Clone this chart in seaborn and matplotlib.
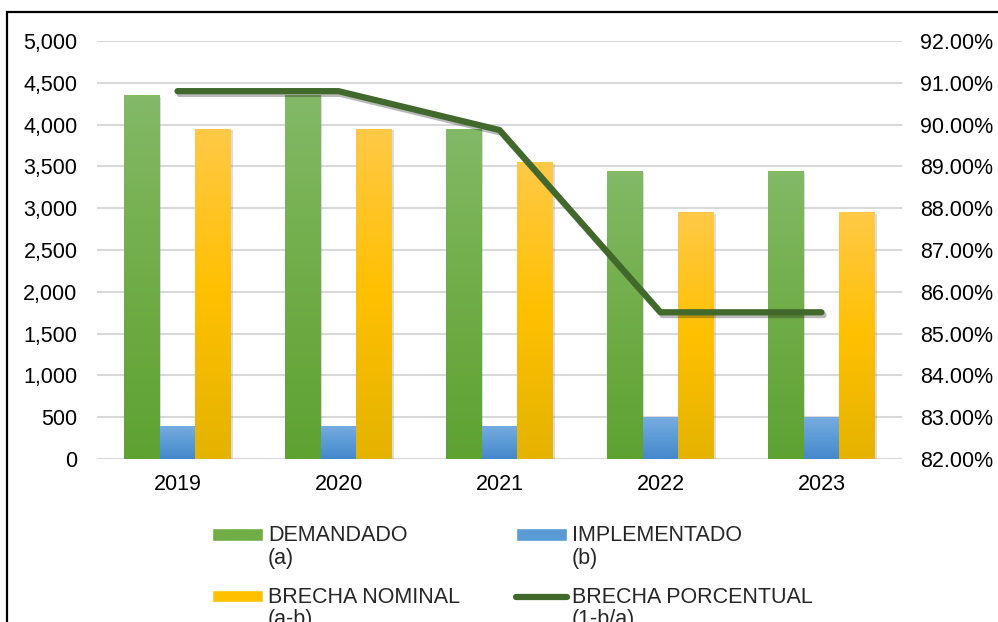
import numpy as np
import pandas as pd
import matplotlib
matplotlib.use("Agg")
import matplotlib.pyplot as plt
import matplotlib.patheffects as pe
from matplotlib.patches import Rectangle, Patch
from matplotlib.lines import Line2D
from matplotlib.legend_handler import HandlerPatch, HandlerLine2D
from matplotlib.colors import LinearSegmentedColormap
from matplotlib.ticker import FuncFormatter
import seaborn as sns

years = ["2019", "2020", "2021", "2022", "2023"]
demandado = [4350, 4350, 3950, 3450, 3450]
implementado = [400, 400, 400, 500, 500]
brecha_nominal = [3950, 3950, 3550, 2950, 2950]
brecha_pct = [90.80, 90.80, 89.87, 85.51, 85.51]

series_names = ["DEMANDADO\n(a)", "IMPLEMENTADO\n(b)", "BRECHA NOMINAL\n(a-b)"]
line_name = "BRECHA PORCENTUAL\n(1-b/a)"

# gradient stops (top, middle, bottom) for each bar series
grad = {
    series_names[0]: ["#83b967", "#70ad47", "#5ea232"],
    series_names[1]: ["#78ace1", "#5b9bd5", "#4588cc"],
    series_names[2]: ["#ffc947", "#ffc000", "#e4b300"],
}
line_color = "#41692b"

df = pd.DataFrame({
    "year": years * 3,
    "series": [series_names[0]] * 5 + [series_names[1]] * 5 + [series_names[2]] * 5,
    "value": demandado + implementado + brecha_nominal,
})

sns.set_theme(style="white")
plt.rcParams["font.family"] = ["Liberation Sans", "DejaVu Sans"]
fs = 15.5

fig = plt.figure(figsize=(9.98, 6.22), dpi=100)
ax = fig.add_axes([97 / 998, 1 - 459 / 622, 805 / 998, 418 / 622])

palette = {k: v[1] for k, v in grad.items()}
sns.barplot(data=df, x="year", y="value", hue="series", palette=palette,
            width=0.67, saturation=1, legend=False, ax=ax, zorder=2)

# gradient fill clipped to each bar
for cont, name in zip(ax.containers, series_names):
    cmap = LinearSegmentedColormap.from_list("g", grad[name][::-1])
    for bar in cont:
        x0, y0 = bar.get_x(), bar.get_y()
        w, h = bar.get_width(), bar.get_height()
        bar.set_path_effects([pe.SimplePatchShadow(offset=(1.2, -1.2), shadow_rgbFace="#8c8c8c", alpha=0.3)])
        bar.set_edgecolor("none")
        im = ax.imshow(np.linspace(0, 1, 256).reshape(-1, 1), cmap=cmap, origin="lower",
                       extent=[x0, x0 + w, y0, y0 + h], aspect="auto", zorder=2.5,
                       interpolation="bilinear")
        im.set_clip_path(bar)

ax.set_xlim(-0.5, 4.5)
ax.set_ylim(0, 5000)
ax.set_yticks(np.arange(0, 5001, 500))
ax.yaxis.set_major_formatter(FuncFormatter(lambda v, p: f"{v:,.0f}"))
ax.set_axisbelow(True)
ax.grid(axis="y", color="#d9d9d9", linewidth=1.5)
ax.grid(axis="x", visible=False)
for s in ax.spines.values():
    s.set_visible(False)
ax.set_xlabel("")
ax.set_ylabel("")
ax.tick_params(axis="both", length=0, labelsize=fs, colors="black")
ax.tick_params(axis="y", pad=14)
ax.tick_params(axis="x", pad=11)

ax2 = ax.twinx()
sns.lineplot(x=np.arange(len(years)), y=brecha_pct, ax=ax2, color=line_color,
             linewidth=4.5, solid_capstyle="round", solid_joinstyle="round",
             path_effects=[pe.SimpleLineShadow(offset=(1.5, -2), alpha=0.3), pe.Normal()])
ax2.set_ylim(82, 92)
ax2.set_yticks(np.arange(82, 92.01, 1))
ax2.yaxis.set_major_formatter(FuncFormatter(lambda v, p: f"{v:.2f}%"))
ax2.tick_params(axis="y", length=0, labelsize=fs, pad=13, colors="black")
for s in ax2.spines.values():
    s.set_visible(False)
ax2.set_xlim(-0.5, 4.5)

# legend handles sit beside the first line of each two-line label
shift = 0.6 * fs


def up_patch(legend, orig_handle, xdescent, ydescent, width, height, fontsize):
    return Rectangle((-xdescent, -ydescent + shift), width, height)


class UpLine(HandlerLine2D):
    def create_artists(self, legend, orig_handle, xdescent, ydescent, width, height, fontsize, trans):
        arts = super().create_artists(legend, orig_handle, xdescent, ydescent, width, height, fontsize, trans)
        for a in arts:
            a.set_ydata(np.asarray(a.get_ydata()) + shift)
        return arts


handles = [
    Patch(facecolor=grad[series_names[0]][1], label=series_names[0]),
    Patch(facecolor=grad[series_names[2]][1], label=series_names[2]),
    Patch(facecolor=grad[series_names[1]][1], label=series_names[1]),
    Line2D([0], [0], color=line_color, linewidth=4.5, solid_capstyle="round", label=line_name),
]
leg = fig.legend(handles=handles, labels=[h.get_label() for h in handles], ncol=2,
                 loc="upper left", bbox_to_anchor=(212 / 998, 1 - 525 / 622),
                 frameon=False, fontsize=fs, borderpad=0, borderaxespad=0,
                 handlelength=2.37, handleheight=0.52, handletextpad=0.23,
                 columnspacing=2.6, labelspacing=0.85,
                 handler_map={Patch: HandlerPatch(patch_func=up_patch), Line2D: UpLine()})
for t in leg.get_texts():
    t.set_linespacing(1.1)

fig.add_artist(Rectangle((7 / 998, -0.1), 1.0, 0.1 + 1 - 12 / 622, transform=fig.transFigure,
                         fill=False, edgecolor="black", linewidth=1.6, clip_on=False))

fig.savefig("out.png", dpi=100)
